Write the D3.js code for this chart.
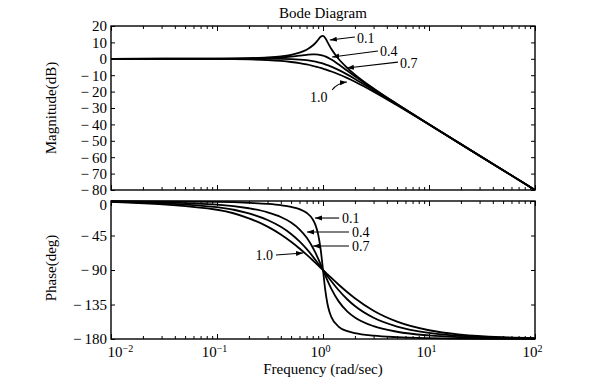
<!DOCTYPE html>
<html>
<head>
<meta charset="utf-8">
<script src="https://cdn.jsdelivr.net/npm/d3@7"></script>
<style>
body{margin:0;background:#fff}
text{font-family:"Liberation Serif","Times New Roman",serif}
</style>
</head>
<body>
<svg id="chart" width="599" height="384"></svg>
<script>
const freq = [0.01, 0.1, 0.2, 0.3, 0.4, 0.5, 0.6, 0.7, 0.8, 0.85, 0.9, 0.95, 1.0, 1.05, 1.1, 1.15, 1.2, 1.4, 1.7, 2, 3, 5, 10, 20, 50, 100];

// magnitude (dB)
const mag01 = [0, 0.09, 0.35, 0.80, 1.47, 2.42, 3.73, 5.53, 8.09, 9.75, 11.64, 13.41, 13.98, 12.63, 10.34, 8.04, 6.00, 0.00, -5.67, -9.62, -18.08, -27.61, -39.91, -52.02, -67.96, -80.0];
const mag04 = [0, 0.06, 0.24, 0.53, 0.93, 1.41, 1.94, 2.41, 2.68, 2.68, 2.56, 2.31, 1.94, 1.45, 0.87, 0.22, -0.47, -3.38, -7.34, -10.63, -18.44, -27.72, -39.94, -52.02, -67.96, -80.0];
const mag07 = [0, 0, 0, -0.02, -0.08, -0.22, -0.47, -0.87, -1.41, -1.74, -2.11, -2.50, -2.92, -3.37, -3.83, -4.31, -4.79, -6.78, -9.65, -12.26, -19.12, -27.96, -40.0, -52.04, -67.96, -80.0];
const mag10 = [0, -0.09, -0.34, -0.75, -1.29, -1.94, -2.67, -3.46, -4.30, -4.72, -5.15, -5.59, -6.02, -6.45, -6.89, -7.32, -7.75, -9.43, -11.80, -13.98, -20.0, -28.30, -40.09, -52.06, -67.96, -80.0];

// phase (deg)
const ph01 = [-0.11, -1.16, -2.39, -3.77, -5.44, -7.59, -10.62, -15.35, -23.96, -31.49, -43.45, -62.84, -90, -116.01, -133.67, -144.5, -151.39, -163.74, -169.8, -172.41, -175.71, -177.61, -178.84, -179.43, -179.77, -179.89];
const ph04 = [-0.46, -4.62, -9.46, -14.77, -20.85, -28.07, -36.87, -47.68, -60.64, -67.8, -75.22, -82.69, -90, -96.96, -103.42, -109.32, -114.62, -130.6, -144.26, -151.93, -163.3, -170.54, -175.38, -177.7, -179.08, -179.54];
const ph07 = [-0.80, -8.05, -16.26, -24.78, -33.69, -43.03, -52.70, -62.51, -72.18, -76.87, -81.43, -85.81, -90, -93.99, -97.77, -101.33, -104.68, -116.1, -128.46, -136.97, -152.3, -163.74, -171.95, -175.99, -178.4, -179.2];
const ph10 = [-1.15, -11.42, -22.62, -33.40, -43.60, -53.13, -61.93, -69.98, -77.32, -80.72, -83.97, -87.03, -90, -92.93, -95.45, -97.98, -100.39, -108.92, -119.05, -126.87, -143.13, -157.38, -168.58, -174.28, -177.71, -178.85];

const magTicks = [20, 10, 0, -10, -20, -30, -40, -50, -60, -70, -80];
const phTicks = [0, -45, -90, -135, -180];
const decades = [0.01, 0.1, 1, 10, 100];
const decadeExp = ["\u22122", "\u22121", "0", "1", "2"];

// labels on the curves (data coords: text pos, line start, arrow tip)
const magNotes = [
  {label: "0.1", tx: 2.09, ty: 12.7, x1: 2.00, y1: 13.3, x2: 1.16, y2: 11.5},
  {label: "0.4", tx: 3.45, ty: 4.8, x1: 3.30, y1: 4.8, x2: 1.22, y2: 1.1},
  {label: "0.7", tx: 5.33, ty: -2.6, x1: 5.09, y1: -2.0, x2: 1.68, y2: -5.6},
  {label: "1.0", tx: 0.754, ty: -23.3, x1: 1.22, y1: -19.0, x2: 1.68, y2: -14.1, cx: 1.355, cy: -14.8}
];
const phNotes = [
  {label: "0.1", tx: 1.51, ty: -22.2, x1: 1.42, y1: -22.2, x2: 0.84, y2: -22.2, anchor: "start"},
  {label: "0.4", tx: 1.88, ty: -40.4, x1: 1.76, y1: -40.4, x2: 0.706, y2: -40.4, anchor: "start"},
  {label: "0.7", tx: 1.88, ty: -58.7, x1: 1.76, y1: -58.7, x2: 0.805, y2: -58.7, anchor: "start"},
  {label: "1.0", tx: 0.338, ty: -70.4, x1: 0.36, y1: -70.4, x2: 0.648, y2: -67.8, anchor: "end"}
];

const svg = d3.select("#chart");

const x = d3.scaleLog().domain([0.01, 100]).range([111, 535]);
const yMag = d3.scaleLinear().domain([-80, 20]).range([190, 26]);
const yPh = d3.scaleLinear().domain([-180, 0]).range([339, 201]);

let minors = [];
for (let d = 0.01; d < 100; d *= 10) {
  for (let k = 2; k <= 9; k++) minors.push(d * k);
}

svg.append("defs").append("marker")
  .attr("id", "arr")
  .attr("markerUnits", "userSpaceOnUse")
  .attr("markerWidth", 8).attr("markerHeight", 6)
  .attr("refX", 7).attr("refY", 3)
  .attr("orient", "auto")
  .append("path").attr("d", "M0,0.5 L7,3 L0,5.5 z").attr("fill", "#000");

function clean(g) {
  g.select(".domain").remove();
  g.attr("font-family", "'Liberation Serif','Times New Roman',serif").attr("font-size", 15);
  g.selectAll(".tick line").attr("stroke-width", 1);
}

function panel(y, ticks, showX) {
  let top = y.range()[1], bot = y.range()[0];

  let ly = svg.append("g").attr("transform", "translate(111,0)")
    .call(d3.axisLeft(y).tickValues(ticks).tickSize(-4).tickPadding(4)
      .tickFormat(d => d < 0 ? "\u2212\u2009" + (-d) : "" + d))
    .call(clean);
  // phase "0" sits a little lower, clear of the -80 above it
  if (showX) ly.selectAll(".tick text").filter(d => d == 0).attr("y", 4);

  svg.append("g").attr("transform", "translate(535,0)")
    .call(d3.axisRight(y).tickValues(ticks).tickSize(-4).tickFormat(""))
    .call(clean);

  svg.append("g").attr("transform", "translate(0," + top + ")")
    .call(d3.axisTop(x).tickValues(decades).tickSize(-5).tickFormat(""))
    .call(clean);
  svg.append("g").attr("transform", "translate(0," + top + ")")
    .call(d3.axisTop(x).tickValues(minors).tickSize(-3).tickFormat(""))
    .call(clean);

  let bx = svg.append("g").attr("transform", "translate(0," + bot + ")")
    .call(d3.axisBottom(x).tickValues(decades).tickSize(-5).tickPadding(7).tickFormat(""))
    .call(clean);
  svg.append("g").attr("transform", "translate(0," + bot + ")")
    .call(d3.axisBottom(x).tickValues(minors).tickSize(-3).tickFormat(""))
    .call(clean);

  if (showX) {
    bx.selectAll(".tick text").each(function(d, i) {
      let t = d3.select(this);
      t.text("");
      // first label starts just left of the tick, the rest sit centred a bit left
      if (i == 0) t.attr("text-anchor", "start").attr("x", -4);
      else t.attr("x", -3);
      t.append("tspan").text("10");
      t.append("tspan").attr("dy", "-0.5em").attr("font-size", 10).text(decadeExp[i]);
    });
  }

  svg.append("rect")
    .attr("x", 111).attr("y", top)
    .attr("width", 535 - 111).attr("height", bot - top)
    .attr("fill", "none").attr("stroke", "#000").attr("stroke-width", 1.4);
}

panel(yMag, magTicks, false);
panel(yPh, phTicks, true);

function drawCurves(y, series) {
  let line = d3.line()
    .x((d, i) => x(freq[i]))
    .y(d => y(d))
    .curve(d3.curveMonotoneX);
  series.forEach(s => {
    svg.append("path").datum(s)
      .attr("d", line)
      .attr("fill", "none")
      .attr("stroke", "#000")
      .attr("stroke-width", 1.8);
  });
}

drawCurves(yMag, [mag10, mag07, mag04, mag01]);
drawCurves(yPh, [ph10, ph07, ph04, ph01]);

function drawNotes(y, notes) {
  notes.forEach(n => {
    let p = d3.path();
    p.moveTo(x(n.x1), y(n.y1));
    if (n.cx) p.quadraticCurveTo(x(n.cx), y(n.cy), x(n.x2), y(n.y2));
    else p.lineTo(x(n.x2), y(n.y2));
    svg.append("path").attr("d", p.toString())
      .attr("fill", "none").attr("stroke", "#000").attr("stroke-width", 1.1)
      .attr("marker-end", "url(#arr)");
    svg.append("text")
      .attr("x", x(n.tx)).attr("y", y(n.ty))
      .attr("dy", "0.35em")
      .attr("text-anchor", n.anchor || "start")
      .attr("font-size", 14)
      .text(n.label);
  });
}

drawNotes(yMag, magNotes);
drawNotes(yPh, phNotes);

svg.append("text")
  .attr("x", 323).attr("y", 18)
  .attr("text-anchor", "middle").attr("font-size", 15)
  .text("Bode Diagram");

svg.append("text")
  .attr("x", 323).attr("y", 374)
  .attr("text-anchor", "middle").attr("font-size", 15)
  .text("Frequency (rad/sec)");

svg.append("text")
  .attr("transform", "translate(56,108) rotate(-90)")
  .attr("text-anchor", "middle").attr("font-size", 15)
  .text("Magnitude(dB)");

svg.append("text")
  .attr("transform", "translate(56,268) rotate(-90)")
  .attr("text-anchor", "middle").attr("font-size", 15)
  .text("Phase(deg)");
</script>
</body>
</html>
